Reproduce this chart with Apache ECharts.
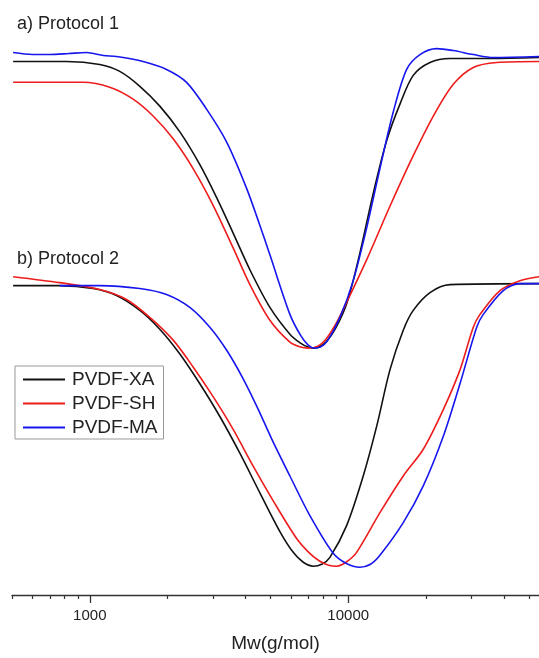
<!DOCTYPE html>
<html>
<head>
<meta charset="utf-8">
<script src="https://cdn.jsdelivr.net/npm/echarts@6/dist/echarts.min.js"></script>
<style>
  html, body { margin: 0; padding: 0; background: #fff; }
  #chart { width: 539px; height: 658px; }
</style>
</head>
<body>
<div id="chart"></div>
<script>
// Mw (g/mol) and detector response (a.u.)
var p1XA_mw = [505, 813, 1093, 1306, 1562, 1866, 2231, 2666, 3093, 3587, 4164, 4977, 5948, 6535, 7000, 7320, 7700, 8200, 8900, 9900, 11099, 12497, 14083, 15857, 17848, 20726, 24764, 35374, 54736];
var p1XA_y  = [538, 538, 535, 528, 513, 493, 467, 434, 401, 365, 328, 290, 263, 254, 250, 249, 250, 255, 268, 295, 345, 405, 458, 495, 524, 537, 541, 541, 542];

var p1SH_mw = [505, 942, 1195, 1471, 1758, 2102, 2511, 3001, 3587, 4164, 4977, 5948, 6535, 7000, 7633, 8200, 8900, 9563, 11782, 14503, 17848, 21346, 25504, 30478, 37549, 54736];
var p1SH_y  = [517, 517, 512, 500, 483, 460, 430, 393, 350, 313, 277, 255, 250, 249, 251, 258, 272, 288, 338, 392, 443, 483, 515, 532, 537, 538];

var p1MA_mw = [505, 600, 700, 830, 971, 1130, 1269, 1608, 1981, 2368, 2830, 3382, 4044, 4688, 4977, 5948, 6535, 7000, 7400, 7800, 8300, 9288, 10457, 11782, 13266, 14937, 16831, 18950, 22004, 25504, 30478, 36431, 54736];
var p1MA_y  = [547, 545, 545, 546, 547, 544, 543, 538, 530, 517, 490, 457, 410, 363, 343, 283, 262, 252, 249, 250, 256, 280, 317, 370, 430, 487, 530, 545, 551, 549, 545, 542, 543];

var p2XA_mw = [505, 765, 1030, 1269, 1562, 1866, 2231, 2666, 3186, 3808, 4552, 5441, 6126, 6700, 7320, 7900, 8497, 9858, 11431, 12882, 14503, 16328, 17848, 20726, 24764, 54736];
var p2XA_y  = [312, 312, 309, 302, 287, 268, 243, 213, 180, 143, 103, 64, 43, 33, 29, 31, 38, 70, 120, 170, 227, 267, 287, 305, 313, 314];

var p2SH_mw = [505, 765, 1093, 1387, 1707, 2102, 2511, 3001, 3587, 4288, 5126, 6314, 7100, 7770, 8400, 9018, 9800, 10778, 13266, 16328, 19516, 23331, 27068, 30478, 32359, 38671, 46197, 54736];
var p2SH_y  = [321, 315, 308, 298, 280, 257, 230, 200, 167, 130, 95, 57, 42, 34, 30, 29, 33, 43, 83, 120, 147, 187, 227, 270, 283, 307, 317, 321];

var p2MA_mw = [765, 1093, 1562, 1981, 2438, 2914, 3382, 3922, 4471, 5066, 5948, 7108, 8749, 9800, 11099, 12200, 13266, 16328, 19516, 23331, 27068, 31418, 33321, 39827, 46197, 54736];
var p2MA_y  = [312, 312, 309, 303, 290, 270, 247, 218, 188, 157, 120, 80, 42, 32, 28, 31, 40, 73, 110, 160, 213, 270, 283, 307, 314, 314];

var majorTicks = [1000, 10000];
var minorTicks = [500, 600, 700, 800, 900, 2000, 3000, 4000, 5000, 6000, 7000, 8000, 9000, 20000, 30000, 40000, 50000];

var font = "'Liberation Sans', Arial, sans-serif";
var colors = { xa: "#111111", sh: "#ee1c1c", ma: "#1616ee" };

function pairs(xs, ys) {
  return xs.map(function (x, i) { return [x, ys[i]]; });
}

function line(name, color, xs, ys) {
  return {
    name: name,
    type: "line",
    xAxisIndex: 0,
    data: pairs(xs, ys),
    showSymbol: false,
    smooth: 0.3,
    lineStyle: { color: color, width: 1.6 },
    itemStyle: { color: color }
  };
}

var chart = echarts.init(document.getElementById("chart"));
chart.setOption({
  animation: false,
  backgroundColor: "#fff",
  title: [
    { text: "a) Protocol 1", left: 17, top: 15, padding: 0,
      textStyle: { fontFamily: font, fontSize: 18, fontWeight: "normal", color: "#222" } },
    { text: "b) Protocol 2", left: 17, top: 250, padding: 0,
      textStyle: { fontFamily: font, fontSize: 18, fontWeight: "normal", color: "#222" } }
  ],
  legend: {
    orient: "vertical",
    left: 15,
    top: 366,
    padding: [4, 6, 2, 8],
    itemGap: 5,
    itemWidth: 42,
    itemHeight: 2,
    icon: "rect",
    borderColor: "#999",
    borderWidth: 1,
    backgroundColor: "#fff",
    data: ["PVDF-XA", "PVDF-SH", "PVDF-MA"],
    textStyle: { fontFamily: font, fontSize: 19, color: "#222", padding: [0, 0, 0, 2] }
  },
  grid: { left: 12, right: 0, top: 0, bottom: 58 },
  xAxis: [
    {
      type: "log",
      logBase: 10,
      min: 500,
      max: 54736,
      name: "Mw(g/mol)",
      nameLocation: "middle",
      nameGap: 39,
      nameTextStyle: { fontFamily: font, fontSize: 19, color: "#222" },
      axisLine: { onZero: false, lineStyle: { color: "#333", width: 1.3 } },
      axisTick: { customValues: majorTicks, length: 8, lineStyle: { color: "#333", width: 1.3 } },
      axisLabel: {
        customValues: majorTicks,
        margin: 13,
        fontFamily: font,
        fontSize: 15,
        color: "#222",
        formatter: function (v) { return String(Math.round(v)); }
      },
      splitLine: { show: false }
    },
    {
      type: "log",
      logBase: 10,
      min: 500,
      max: 54736,
      position: "bottom",
      axisLine: { show: false, onZero: false },
      axisTick: { customValues: minorTicks, length: 4, lineStyle: { color: "#333", width: 1.2 } },
      axisLabel: { show: false },
      splitLine: { show: false }
    }
  ],
  yAxis: { type: "value", min: 0, max: 600, show: false },
  series: [
    line("PVDF-XA", colors.xa, p1XA_mw, p1XA_y),
    line("PVDF-SH", colors.sh, p1SH_mw, p1SH_y),
    line("PVDF-MA", colors.ma, p1MA_mw, p1MA_y),
    line("PVDF-XA", colors.xa, p2XA_mw, p2XA_y),
    line("PVDF-SH", colors.sh, p2SH_mw, p2SH_y),
    line("PVDF-MA", colors.ma, p2MA_mw, p2MA_y)
  ]
});
</script>
</body>
</html>
